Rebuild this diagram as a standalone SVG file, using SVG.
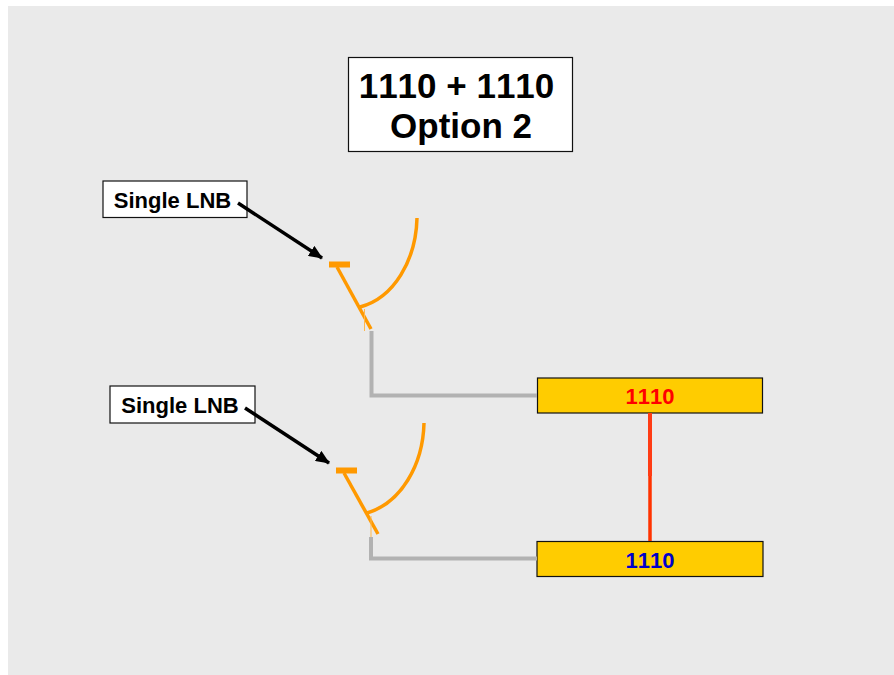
<svg xmlns="http://www.w3.org/2000/svg" width="894" height="675" viewBox="0 0 894 675">
<style>
text{font-family:"Liberation Sans",Arial,sans-serif;font-weight:700;text-anchor:middle;font-kerning:none}
.box{fill:#fff;stroke:#111;stroke-width:1.200}
.rcv{fill:#ffcc00;stroke:#111;stroke-width:1.200}
.lab{font-size:22px;fill:#000}
.num{font-size:22px}
.ttl{font-size:35px;fill:#000}
.dish{fill:none;stroke:#ff9900;stroke-width:3.500}
.coax{fill:none;stroke:#b2b2b2;stroke-width:4}
.arr{stroke:#000;stroke-width:3.500;fill:none}
</style>
<defs>
<marker id="ah" markerUnits="userSpaceOnUse" markerWidth="14" markerHeight="12" refX="13" refY="6" orient="auto"><path d="M0 0L14 6L0 12Z" fill="#000"/></marker>
</defs>
<rect width="894" height="675" fill="#fff"/>
<rect x="8" y="6" width="886" height="669" fill="#eaeaea"/>
<g id="title"><rect class="box" x="348.500" y="57.500" width="224" height="94"/>
<text class="ttl" x="456.500" y="98">1110 + 1110</text><text class="ttl" x="461" y="138">Option 2</text></g>
<g id="lnb-label-1"><rect class="box" x="103" y="181" width="144" height="36.500"/><text class="lab" x="172.500" y="208">Single LNB</text></g>
<g id="lnb-label-2"><rect class="box" x="110" y="386" width="145" height="37"/><text class="lab" x="180" y="413">Single LNB</text></g>
<g id="dish-1">
<path d="M329 264.500H350" stroke="#ff9900" stroke-width="6" fill="none"/>
<path class="dish" d="M337 267L371 329"/>
<path class="dish" d="M417 218C416 260 394 298 360 307"/>
<path d="M364.500 309V331" stroke="#ffb84d" stroke-width="1" fill="none"/>
</g>
<g id="dish-2">
<path d="M336 470.500H357" stroke="#ff9900" stroke-width="6" fill="none"/>
<path class="dish" d="M344 473L378 534"/>
<path class="dish" d="M424 423C423 465 401 503 367 513"/>
<path d="M371 516V537" stroke="#ffb84d" stroke-width="1" fill="none"/>
</g>
<g id="receiver-1"><rect class="rcv" x="537.500" y="378" width="225" height="35"/><text class="num" x="650" y="403.500" fill="#ff0000">1110</text></g>
<g id="receiver-2"><rect class="rcv" x="537" y="541.500" width="226" height="35"/><text class="num" x="650" y="568" fill="#0000cc">1110</text></g>
<g id="connectors">
<path class="coax" d="M371.500 331V395.500H537"/>
<path class="coax" d="M371 537V558.500H537"/>
<path d="M650 413V476" stroke="#ff3c14" stroke-width="4" fill="none"/>
<path d="M650 476V541" stroke="#ff3300" stroke-width="3.500" fill="none"/>
<path class="arr" d="M238 203L322 258" marker-end="url(#ah)"/>
<path class="arr" d="M245 408L329 463" marker-end="url(#ah)"/>
</g>
</svg>
